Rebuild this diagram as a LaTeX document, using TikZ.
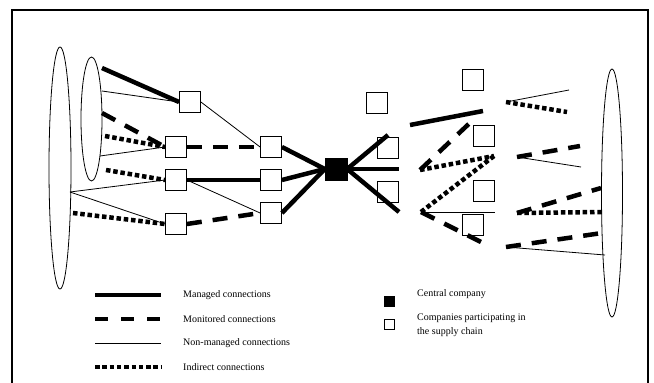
\documentclass[tikz,border=0pt]{standalone}
\usepackage{fontspec}
\setmainfont{Liberation Serif}
\usetikzlibrary{positioning, shapes.geometric}
\tikzset{
  firm/.style={draw, fill=white, minimum size=21pt, inner sep=0pt, line width=0.8pt},
  hub/.style={draw, fill=black, minimum size=22pt, inner sep=0pt},
  group/.style={draw, ellipse, inner sep=0pt, line width=0.8pt},
  managed/.style={line width=4.5pt},
  monitored/.style={line width=4.5pt, dash pattern=on 15pt off 11pt},
  nonmanaged/.style={line width=0.8pt},
  indirect/.style={line width=4.5pt, dash pattern=on 4.5pt off 2.8pt},
  key/.style={anchor=west, inner sep=0pt, align=left, font=\fontsize{10}{14}\selectfont}
}
\begin{document}
\begin{tikzpicture}[x=1pt, y=-1pt, node distance=95pt]
\useasboundingbox (0,0) rectangle (654,383);
\clip (0,0) rectangle (654,383);
\draw[line width=1.2pt] (12,10) rectangle (648,400);

\node[group, minimum width=22pt, minimum height=242pt] (tier2) at (60,168) {};
\node[group, minimum width=21pt, minimum height=124pt] (tier1) at (91.5,119) {};
\node[group, minimum width=21pt, minimum height=248pt] (custs) at (612,193) {};

\node[firm] (A) at (190,102) {};
\node[firm] (B) at (176,147) {};
\node[firm] (C) at (176,180) {};
\node[firm] (D) at (176,224) {};
\node[firm, right of=B] (E) {};
\node[firm, right of=C] (F) {};
\node[firm] (G) at (271,213) {};
\node[hub] (H) at (336,169) {};
\node[firm] (K1) at (388,148) {};
\node[firm] (K2) at (388,192) {};
\node[firm] (K3) at (377,103) {};
\node[firm] (K4) at (473,80) {};
\node[firm] (K5) at (484,136) {};
\node[firm] (K6) at (484,191) {};
\node[firm] (K7) at (473,225) {};

\coordinate (s1) at (102,68);
\coordinate (s2) at (102,91);
\coordinate (s3) at (102,113);
\coordinate (s4) at (105,136);
\coordinate (s5) at (100,156);
\coordinate (s6) at (106,170);
\coordinate (b1) at (70,192);
\coordinate (b2) at (73,213);
\coordinate (r1) at (388,135);
\coordinate (r2) at (399,169);
\coordinate (r3) at (399,212);
\coordinate (r4) at (410,125);
\coordinate (r5) at (483,111);
\coordinate (r6) at (420,170);
\coordinate (r7) at (474,119);
\coordinate (r8) at (494,156);
\coordinate (r9) at (421,212);
\coordinate (r10) at (495,212);
\coordinate (r11) at (485,244);
\coordinate (f1) at (506,102);
\coordinate (f2) at (569,90);
\coordinate (f3) at (567,112);
\coordinate (f4) at (517,157);
\coordinate (f5) at (580,146);
\coordinate (f6) at (581,167);
\coordinate (f7) at (517,213);
\coordinate (f8) at (601,188);
\coordinate (f9) at (602,212);
\coordinate (f10) at (506,247);
\coordinate (f11) at (602,233);
\coordinate (f12) at (605,255);

\path[managed]
    (s1) edge (A.west)
    (C.east) edge (F.west)
    (E.east) edge (H.west)
    (F.east) edge (H.west)
    (G.east) edge (H.west)
    (H.east) edge (r1)
    (H.east) edge (r2)
    (H.east) edge (r3)
    (r4) edge (r5);
\path[monitored]
    (s3) edge (B.west)
    (B.east) edge (E.west)
    (D.east) edge (G.west)
    (r6) edge (r7)
    (r9) edge (r11)
    (f4) edge (f5)
    (f7) edge (f8)
    (f10) edge (f11);
\path[nonmanaged]
    (s2) edge (A.west)
    (s5) edge (B.west)
    (b1) edge (C.west)
    (b1) edge (D.west)
    (A.east) edge (E.west)
    (C.east) edge (G.west)
    (r9) edge (r10)
    (f1) edge (f2)
    (f4) edge (f6)
    (f10) edge (f12);
\path[indirect]
    (s4) edge (B.west)
    (s6) edge (C.west)
    (b2) edge (D.west)
    (r6) edge (r8)
    (r9) edge (r8)
    (f1) edge (f3)
    (f7) edge (f9);

\coordinate (k1a) at (95,295);  \coordinate (k1b) at (161,295);
\coordinate (k2a) at (95,319);  \coordinate (k2b) at (161,319);
\coordinate (k3a) at (95,343);  \coordinate (k3b) at (161,343);
\coordinate (k4a) at (95,367);  \coordinate (k4b) at (161,367);
\draw[managed] (k1a) -- (k1b);
\draw[monitored, dash pattern=on 13pt off 13pt] (k2a) -- (k2b);
\draw[nonmanaged] (k3a) -- (k3b);
\draw[indirect] (k4a) -- (k4b);
\node[key] (t1) at (183,295) {Managed connections};
\node[key] (t2) at (183,319) {Monitored connections};
\node[key] (t3) at (183,343) {Non-managed connections};
\node[key] (t4) at (183,367) {Indirect connections};

\node[hub, minimum size=10pt] (hubkey) at (389,301) {};
\node[firm, minimum size=10pt] (firmkey) at (389,324) {};
\node[key] (t5) at (417,294) {Central company};
\node[key] (t6) at (417,325) {Companies participating in\\the supply chain};
\end{tikzpicture}
\end{document}
